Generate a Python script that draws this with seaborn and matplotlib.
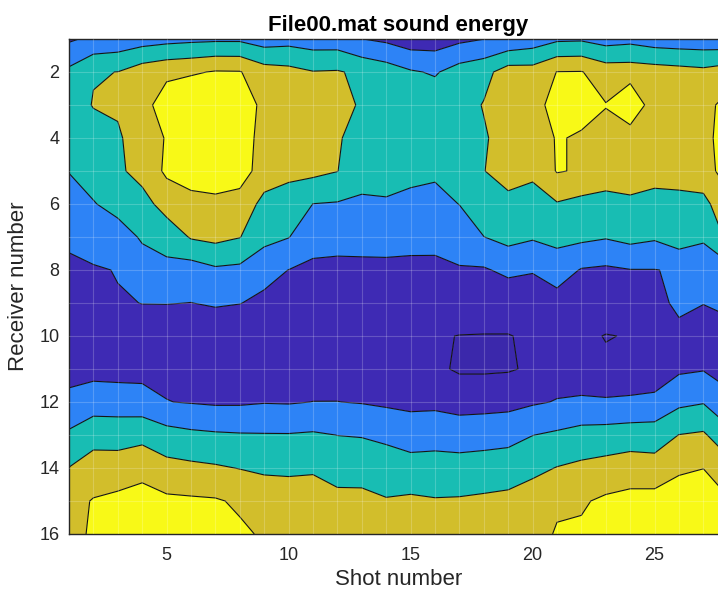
import numpy as np
import matplotlib
matplotlib.use("Agg")
import matplotlib.pyplot as plt
import seaborn as sns

# Grid axes
shots = list(range(1, 29))
receivers = list(range(1, 17))

# Sound energy per shot, receivers 1..16 (top to bottom)
shot01 = [0.865, 2.215, 2.5, 2.4, 2.03, 1.585, 1.14, 0.846, 0.62, 0.4, 0.733, 1.2, 2.167, 3.02, 3.49, 3.3]
shot02 = [1.2, 2.94, 3.05, 2.55, 2.37, 1.95, 1.5, 0.9, 0.6, 0.45, 0.8, 1.34, 2.875, 3.15, 4.09, 4.3]
shot03 = [1.33, 3.01, 3.15, 2.85, 2.8, 2.3, 1.6, 1.04, 0.94, 0.45, 0.75, 1.36, 2.78, 3.25, 4.32, 4.5]
shot04 = [1.55, 3.51, 3.6, 3.6, 3.4, 2.57, 2.1, 1.6, 1.01, 0.68, 0.7, 1.38, 2.76, 3.56, 4.54, 4.6]
shot05 = [1.69, 3.77, 4.54, 4.05, 4.15, 3.47, 2.3, 1.8, 1.03, 0.3, 0.8, 1.02, 2.38, 3.31, 4.19, 4.5]
shot06 = [1.78, 3.88, 4.95, 5.0, 4.5, 3.65, 3.094, 1.53, 0.99, 0.3, 0.7, 0.947, 2.206, 3.21, 4.14, 4.3]
shot07 = [1.83, 4.07, 5.2, 5.2, 4.5, 3.785, 3.27, 1.85, 1.104, 0.3, 0.65, 0.872, 2.12, 3.11, 4.09, 4.3]
shot08 = [1.83, 4.05, 4.9, 4.7, 4.6, 3.47, 3.03, 1.775, 1.023, 0.3, 0.6, 0.878, 2.072, 2.97, 3.865, 4.146]
shot09 = [1.52, 3.44, 3.61, 3.5, 3.4, 2.78, 2.3, 1.3, 0.8, 0.35, 0.6, 0.955, 2.055, 2.84, 3.6, 3.9]
shot10 = [1.64, 3.3, 3.5, 3.4, 3.2, 2.625, 2.03, 0.99, 0.6, 0.35, 0.6, 0.93, 2.05, 2.8, 3.57, 3.8]
shot11 = [1.48, 3.04, 3.4, 3.4, 3.25, 1.99, 1.39, 0.79, 0.5, 0.35, 0.55, 1.01, 2.11, 2.85, 3.6, 3.8]
shot12 = [1.47, 3.08, 3.3, 3.1, 3.02, 1.93, 1.33, 0.76, 0.5, 0.35, 0.6, 1.01, 1.99, 2.6, 3.28, 3.6]
shot13 = [1.01, 2.8, 2.9, 2.6, 2.3, 1.874, 1.33, 0.78, 0.5, 0.35, 0.55, 0.95, 1.95, 2.575, 3.28, 3.6]
shot14 = [0.81, 2.5, 2.6, 2.5, 2.4, 1.89, 1.34, 0.79, 0.45, 0.3, 0.5, 0.838, 1.82, 2.44, 3.07, 3.5]
shot15 = [0.46, 2.1, 2.4, 2.4, 2.25, 1.757, 1.27, 0.79, 0.45, 0.25, 0.45, 0.756, 1.583, 2.37, 3.16, 3.5]
shot16 = [0.49, 1.9, 2.6, 2.4, 2.15, 1.706, 1.25, 0.8, 0.4, 0.08, 0.15, 0.767, 1.66, 2.366, 3.07, 3.4]
shot17 = [0.79, 2.43, 2.6, 2.6, 2.4, 2.016, 1.47, 0.924, 0.6, -0.02, -0.1, 0.55, 1.675, 2.277, 3.108, 3.4]
shot18 = [0.99, 2.70, 3.05, 2.9, 2.98, 2.5, 1.99, 0.902, 0.31, -0.02, -0.1, 0.55, 1.8, 2.226, 3.23, 3.5]
shot19 = [1.2, 3.45, 3.7, 3.4, 3.35, 2.765, 2.3, 1.22, 0.3, -0.02, -0.08, 0.72, 1.65, 2.57, 3.22, 3.6]
shot20 = [1.45, 3.41, 3.7, 3.6, 3.18, 2.64, 2.1, 1.07, 0.4, 0.08, 0.12, 0.89, 1.985, 2.75, 3.52, 3.7]
shot21 = [1.83, 4.02, 4.3, 4.05, 4.06, 2.93, 2.27, 1.48, 0.6, 0.35, 0.6, 1.046, 2.153, 3.035, 3.88, 4.066]
shot22 = [1.87, 4.04, 4.24, 3.925, 3.91, 2.7, 2.22, 0.936, 0.5, 0.16, 0.4, 1.15, 2.36, 3.2, 3.9, 4.13]
shot23 = [1.6, 3.54, 4.035, 3.685, 3.5, 2.67, 2.07, 0.84, 0.47, -0.03, 0.128, 1.14, 2.4, 3.35, 4.16, 4.4]
shot24 = [1.72, 3.53, 4.87, 3.42, 3.4, 2.85, 2.29, 0.974, 0.4, 0.037, 0.3, 1.175, 2.485, 3.515, 4.285, 4.5]
shot25 = [1.49, 3.45, 3.4, 3.5, 3.35, 2.68, 2.126, 0.977, 0.7, 0.3, 0.5, 1.21, 2.527, 3.387, 4.36, 4.6]
shot26 = [1.42, 3.35, 3.6, 3.6, 3.4, 2.71, 2.535, 1.09, 1.2, 0.745, 0.846, 1.78, 3.016, 3.82, 4.62, 4.8]
shot27 = [1.39, 3.24, 3.7, 3.8, 3.5, 2.76, 2.1, 1.56, 1.02, 0.6, 0.94, 1.94, 3.13, 3.98, 4.8, 5.0]
shot28 = [1.3, 3.5, 4.3, 4.3, 4.5, 3.6, 3.2, 1.6, 1.25, 0.6, 0.6, 1.3, 2.3, 3.4, 4.1, 4.4]

# Contour levels and fill colours (parula-like)
fill_levels = [-0.5, 0, 1, 2, 3, 4, 6]
line_levels = [0, 1, 2, 3, 4]
fill_colors = ["#3b28ab", "#3e2ab4", "#2d83f6", "#18bdb3", "#d2be2b", "#f8f917"]

x_ticks = [5, 10, 15, 20, 25]
y_ticks = [2, 4, 6, 8, 10, 12, 14, 16]

sns.set_theme(style="white")
plt.rcParams["font.family"] = ["Liberation Sans", "DejaVu Sans"]

energy = np.column_stack([
    shot01, shot02, shot03, shot04, shot05, shot06, shot07, shot08, shot09, shot10,
    shot11, shot12, shot13, shot14, shot15, shot16, shot17, shot18, shot19, shot20,
    shot21, shot22, shot23, shot24, shot25, shot26, shot27, shot28,
])
X, Y = np.meshgrid(shots, receivers)

fig = plt.figure(figsize=(7.18, 5.95), dpi=100)
ax = fig.add_axes([69 / 718, 61 / 595, 658.8 / 718, 495 / 595])

palette = sns.color_palette(fill_colors)
ax.contourf(X, Y, energy, levels=fill_levels, colors=palette, antialiased=True)
ax.contour(X, Y, energy, levels=line_levels, colors="#141414", linewidths=0.8)

# faint mesh lines at every grid node
for s in shots[1:-1]:
    ax.axvline(s, color="white", alpha=0.2, lw=0.8, zorder=3)
for r in receivers[1:-1]:
    ax.axhline(r, color="white", alpha=0.2, lw=0.8, zorder=3)

ax.set_xlim(shots[0], shots[-1])
ax.set_ylim(receivers[-1], receivers[0])
ax.set_xticks(x_ticks)
ax.set_yticks(y_ticks)

ax.tick_params(axis="both", direction="in", length=4.5, width=0.9, color="#262626",
               labelcolor="#262626", labelsize=13, top=True, right=True)
ax.tick_params(axis="x", pad=9)
ax.tick_params(axis="y", pad=7)
for sp in ax.spines.values():
    sp.set_visible(True)
    sp.set_color("#262626")
    sp.set_linewidth(1.0)

ax.set_title("File00.mat sound energy", fontsize=16, fontweight="bold", pad=6, color="black")
ax.set_xlabel("Shot number", fontsize=16, color="#262626", labelpad=4)
ax.set_ylabel("Receiver number", fontsize=16, color="#262626", labelpad=7)

fig.savefig("out.png", dpi=100)
